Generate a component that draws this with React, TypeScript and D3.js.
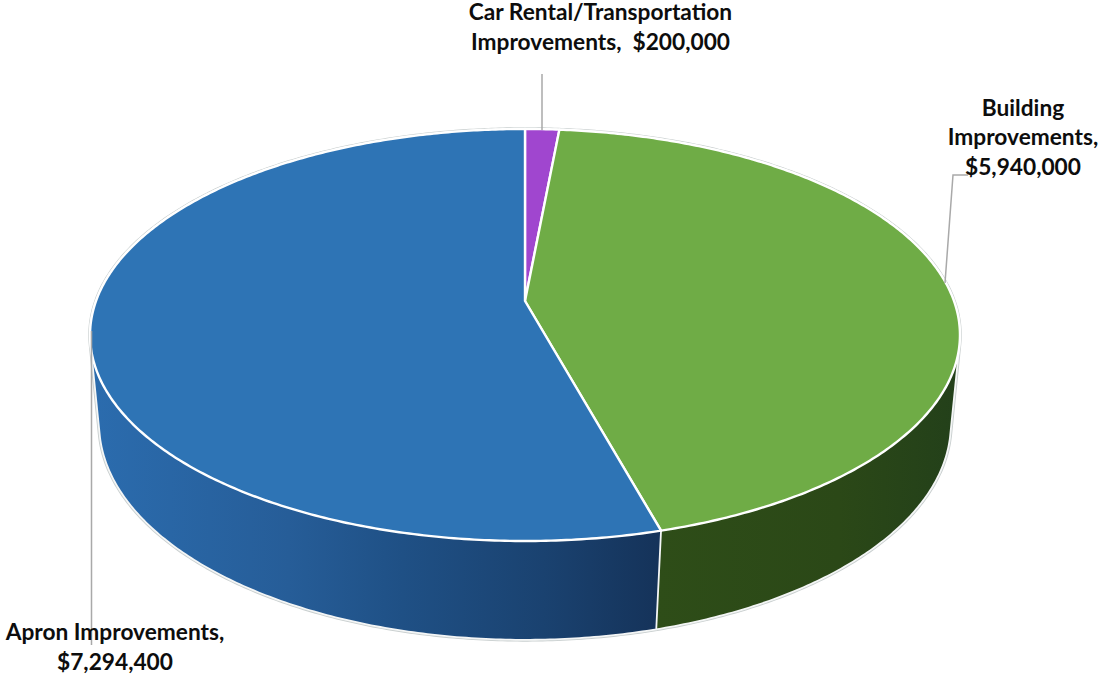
import React from "react";
import * as d3 from "d3";

// Airport capital program, split by project type (clockwise from 12 o'clock).
const categories = ["Car Rental/Transportation Improvements", "Building Improvements", "Apron Improvements"];
const amounts = [200000, 5940000, 7294400];
const topColors = ["#a046cf", "#6fac46", "#2e74b5"];

const WIDTH = 1098;
const HEIGHT = 677;

// A tilted disc seen in perspective: the hub sits above the centre of the outline ellipse.
const TOP_DISC = { hubX: 525, hubY: 301, a: 429, b: 200.4, k: 0.165 };
const BASE_DISC = { hubX: 525, hubY: 391.6, a: 421, b: 211, k: 0.15 };
type Disc = typeof TOP_DISC;
type Pt = [number, number];

const project = (disc: Disc, angle: number): Pt => {
  const u = Math.sin(angle);
  const v = Math.cos(angle);
  const w = 1 + disc.k * v;
  return [disc.hubX + (disc.a * u) / w, disc.hubY - (disc.b * v) / w];
};

const samples = (start: number, end: number) => {
  const n = Math.max(2, Math.ceil((end - start) / 0.01));
  const t = d3.scaleLinear().domain([0, n]).range([start, end]);
  return d3.range(n + 1).map((i) => t(i));
};

const line = d3.line<Pt>();
const rimPoints = (disc: Disc, start: number, end: number) =>
  samples(start, end).map((a) => project(disc, a));

const slices = d3
  .pie<number>()
  .sort(null)
  .startAngle(0)
  .endAngle(2 * Math.PI)(amounts);

const topPath = (start: number, end: number) =>
  line([[TOP_DISC.hubX, TOP_DISC.hubY], ...rimPoints(TOP_DISC, start, end)])! + "Z";

// The hull of both rims gives the straight tangent edges at the far left and right.
const hullPath = (start: number, end: number) =>
  line(
    d3.polygonHull([...rimPoints(TOP_DISC, start, end), ...rimPoints(BASE_DISC, start, end)]) as Pt[]
  )! + "Z";

const dollars = d3.format("$,");
const [carValue, buildingValue, apronValue] = amounts.map((v) => dollars(v));

const labelLines = [
  ["Car Rental/Transportation", `Improvements,  ${carValue}`],
  ["Building", "Improvements,", buildingValue],
  ["Apron Improvements,", apronValue],
];
const labelAnchors = [
  { x: 600.5, y: 20 },
  { x: 1023, y: 115.5 },
  { x: 115, y: 640 },
];
const leaders = [
  "M542,74V130",
  "M968,175H953L945,283",
  "M91.5,331V645",
];
const LINE_GAP = 29.7;

const wallStops = [
  [
    { at: 0, color: "#5b2a78" },
    { at: 1, color: "#5b2a78" },
  ],
  [
    { at: 0, color: "#2e4d18" },
    { at: 0.6, color: "#2b4817" },
    { at: 1, color: "#23401a" },
  ],
  [
    { at: 0, color: "#2b6cae" },
    { at: 0.35, color: "#265d98" },
    { at: 0.55, color: "#1f5085" },
    { at: 0.8, color: "#1a4270" },
    { at: 1, color: "#15335a" },
  ],
];
const wallRange = [
  [525, 560],
  [657, 960],
  [91, 657],
];

export default function App() {
  return (
    <svg
      width={WIDTH}
      height={HEIGHT}
      viewBox={`0 0 ${WIDTH} ${HEIGHT}`}
      style={{ position: "absolute", left: 0, top: 0, background: "#fff" }}
    >
      <defs>
        {wallStops.map((stops, i) => (
          <linearGradient
            key={i}
            id={`wall-${i}`}
            gradientUnits="userSpaceOnUse"
            x1={wallRange[i][0]}
            x2={wallRange[i][1]}
            y1={0}
            y2={0}
          >
            {stops.map((s) => (
              <stop key={s.at} offset={s.at} stopColor={s.color} />
            ))}
          </linearGradient>
        ))}
      </defs>

      {/* pale halo around the whole solid */}
      <path d={hullPath(0, 2 * Math.PI)} fill="none" stroke="#c9cfcf" strokeWidth={3.6} strokeLinejoin="round" />

      {/* side walls */}
      {slices.map((s, i) => (
        <path
          key={categories[i]}
          d={hullPath(s.startAngle, s.endAngle)}
          fill={`url(#wall-${i})`}
          stroke="#f4f6f6"
          strokeWidth={1.8}
          strokeLinejoin="round"
        />
      ))}

      {/* top face */}
      {slices.map((s, i) => (
        <path
          key={categories[i]}
          d={topPath(s.startAngle, s.endAngle)}
          fill={topColors[i]}
          stroke="#fff"
          strokeWidth={2.4}
          strokeLinejoin="round"
        />
      ))}

      {/* leader lines */}
      {leaders.map((d) => (
        <path key={d} d={d} fill="none" stroke="#a9a9a9" strokeWidth={1.5} />
      ))}

      {/* data labels */}
      {labelLines.map((lines, i) => (
        <text
          key={categories[i]}
          textAnchor="middle"
          fontFamily="Lato, 'Open Sans', sans-serif"
          fontWeight={700}
          fontSize={22.7}
          fill="#0d0d0d"
          style={{ whiteSpace: "pre" }}
        >
          {lines.map((l, j) => (
            <tspan key={j} x={labelAnchors[i].x} y={labelAnchors[i].y + j * LINE_GAP}>
              {l}
            </tspan>
          ))}
        </text>
      ))}
    </svg>
  );
}
